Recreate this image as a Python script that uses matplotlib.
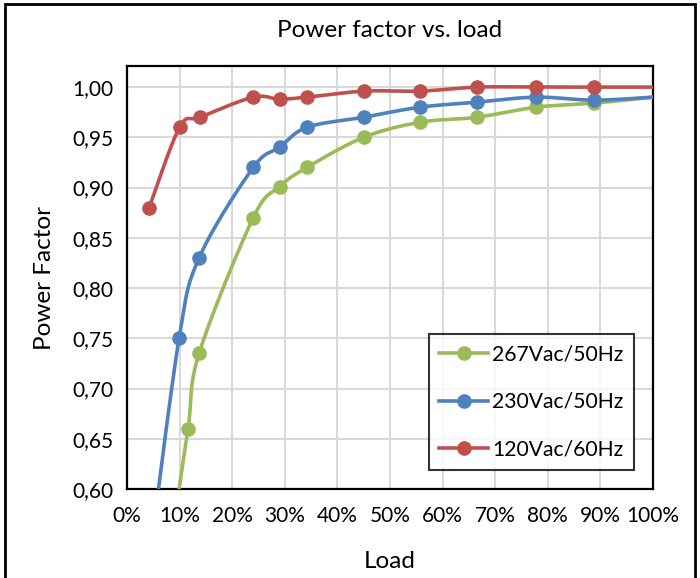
import numpy as np
import matplotlib
matplotlib.use("Agg")
import matplotlib.pyplot as plt
from matplotlib.ticker import FuncFormatter
from matplotlib.patches import Rectangle

plt.rcParams['font.family'] = ['Lato', 'DejaVu Sans']

# -----------------------------
# Data (load fraction, power factor)
# -----------------------------
load_267 = [0.085, 0.116, 0.137, 0.24, 0.29, 0.342, 0.45, 0.557, 0.665, 0.778, 0.888, 1.00]
pf_267 = [0.55, 0.66, 0.735, 0.87, 0.901, 0.92, 0.95, 0.965, 0.97, 0.98, 0.984, 0.99]

load_230 = [0.045, 0.099, 0.137, 0.24, 0.29, 0.342, 0.45, 0.557, 0.665, 0.778, 0.888, 1.00]
pf_230 = [0.54, 0.75, 0.83, 0.92, 0.94, 0.96, 0.97, 0.98, 0.985, 0.99, 0.987, 0.99]

load_120 = [0.042, 0.10, 0.139, 0.24, 0.29, 0.342, 0.45, 0.557, 0.665, 0.778, 0.888, 1.00]
pf_120 = [0.88, 0.96, 0.97, 0.99, 0.988, 0.99, 0.996, 0.996, 1.00, 1.00, 1.00, 1.00]

labels = ['267Vac/50Hz', '230Vac/50Hz', '120Vac/60Hz']
colors = ['#9BBB59', '#4F81BD', '#C0504D']


def smooth(x, y, n=30):
    # Catmull-Rom style bezier like Excel's smoothed lines
    x = np.asarray(x, float)
    y = np.asarray(y, float)
    px = np.concatenate([[x[0]], x, [x[-1]]])
    py = np.concatenate([[y[0]], y, [y[-1]]])
    xs, ys = [], []
    t = np.linspace(0, 1, n)
    for i in range(1, len(px) - 2):
        p0 = np.array([px[i], py[i]])
        p3 = np.array([px[i + 1], py[i + 1]])
        c1 = p0 + (p3 - np.array([px[i - 1], py[i - 1]])) / 6
        c2 = p3 - (np.array([px[i + 2], py[i + 2]]) - p0) / 6
        b = (((1 - t) ** 3)[:, None] * p0 + (3 * (1 - t) ** 2 * t)[:, None] * c1
             + (3 * (1 - t) * t ** 2)[:, None] * c2 + (t ** 3)[:, None] * p3)
        xs.extend(b[:, 0])
        ys.extend(b[:, 1])
    return np.array(xs), np.array(ys)


fig = plt.figure(figsize=(7.0, 5.78), dpi=100)
ax = fig.add_axes([127 / 700, 1 - 489 / 578, 526 / 700, 423 / 578])

series = [(load_267, pf_267), (load_230, pf_230), (load_120, pf_120)]
for (x, y), lab, c in zip(series, labels, colors):
    sx, sy = smooth(x, y)
    ax.plot(sx, sy, color=c, lw=2.6, solid_capstyle='butt', zorder=3)
    # markers on all but the last point
    ax.plot(x[:-1], y[:-1], 'o', color=c, ms=9.5, zorder=4)
    ax.plot([], [], '-o', color=c, lw=2.6, ms=9.5, label=lab)

ax.set_xlim(0, 1)
ax.set_ylim(0.6, 1.021)
ax.set_xticks(np.arange(0, 1.01, 0.1))
ax.set_yticks(np.arange(0.6, 1.001, 0.05))
ax.xaxis.set_major_formatter(FuncFormatter(lambda v, p: f"{v * 100:.0f}%"))
ax.yaxis.set_major_formatter(FuncFormatter(lambda v, p: f"{v:.2f}".replace('.', ',')))
ax.tick_params(length=0, labelsize=15, pad=10)
ax.tick_params(axis='x', pad=12)
ax.grid(True, color='#d9d9d9', lw=1.5)
ax.set_axisbelow(True)
for s in ax.spines.values():
    s.set_linewidth(1.6)
    s.set_color('black')

ax.set_title('Power factor vs. load', fontsize=17.5, pad=21)
ax.set_xlabel('Load', fontsize=17.5, labelpad=18)
ax.set_ylabel('Power Factor', fontsize=17.5, labelpad=12)

leg = ax.legend(loc='lower right', bbox_to_anchor=(0.964, 0.045), fontsize=15.2,
                frameon=True, fancybox=False, handlelength=2.3, labelspacing=1.3,
                borderpad=0.5, handletextpad=0.2, borderaxespad=0)
leg.get_frame().set_edgecolor('black')
leg.get_frame().set_linewidth(1.5)

# outer chart border
fig.patches.append(Rectangle((5 / 700, -0.01), 690 / 700, 1 - 4 / 578 + 0.01,
                             transform=fig.transFigure, fill=False,
                             edgecolor='black', lw=2))

fig.savefig('out.png', dpi=100)
